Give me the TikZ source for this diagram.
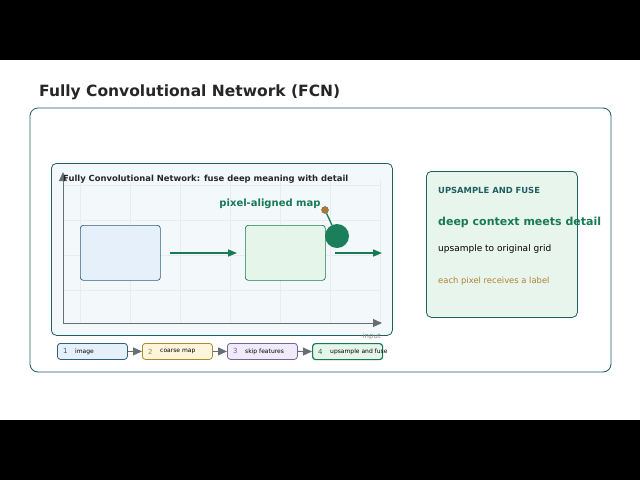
\documentclass[tikz,border=0pt]{standalone}
\usepackage{fontspec}
\setmainfont{DejaVu Sans}
\usetikzlibrary{arrows.meta}
\definecolor{teal}{HTML}{1F5F5F}
\definecolor{grn}{HTML}{177A55}
\definecolor{ax}{HTML}{666F73}
\tikzset{
 stepbox/.style={draw,rounded corners=3pt,line width=0.8pt,minimum width=70pt,minimum height=16pt,anchor=north west,inner sep=0pt},
 tri/.style={-{Triangle[length=9pt,width=8pt]},ax,line width=1pt},
 garr/.style={-{Triangle[length=9pt,width=7pt]},grn,line width=1.6pt},
 card/.style={font=\fontsize{9}{10}\selectfont,anchor=base west,inner sep=0pt}
}
\begin{document}
\begin{tikzpicture}[x=1pt,y=-1pt]
\useasboundingbox (0,0) rectangle (640,480);
\fill[white] (0,0) rectangle (640,480);
\fill[black] (0,0) rectangle (640,60);
\fill[black] (0,420) rectangle (640,480);
\node[anchor=base west,inner sep=0pt,font=\bfseries\fontsize{15.5}{17}\selectfont,text=black!85] (title) at (39,96) {Fully Convolutional Network (FCN)};
\draw[teal,line width=0.8pt,rounded corners=8pt] (30,108) rectangle (611,372);
\node[draw=teal,fill={rgb,255:red,243;green,248;blue,251},line width=0.8pt,rounded corners=5pt,minimum width=341pt,minimum height=172pt,anchor=north west,inner sep=0pt] (panel) at (51,163) {};
\foreach \x in {80,130,180,230,280,330,380} \draw[black!8,line width=0.6pt] (\x,180) -- (\x,323);
\foreach \y in {185,220,255,290} \draw[black!8,line width=0.6pt] (63,\y) -- (380,\y);
\coordinate (o) at (63,323);
\coordinate (yt) at (63,172);
\coordinate (xt) at (382,323);
\draw[tri] (o) -- (yt);
\draw[tri] (o) -- (xt);
\node[anchor=base east,inner sep=0pt,font=\fontsize{7}{8}\selectfont,text=black!45] (inp) at (381,338) {input};
\node[anchor=base west,inner sep=0pt,font=\bfseries\fontsize{8.4}{10}\selectfont,text=black!85] (pt) at (63,181) {Fully Convolutional Network: fuse deep meaning with detail};
\node[draw={rgb,255:red,47;green,95;blue,127},fill={rgb,255:red,230;green,240;blue,250},rounded corners=3pt,minimum width=80pt,minimum height=55pt,anchor=north west,inner sep=0pt,line width=0.7pt] (b1) at (80,225) {};
\node[draw=grn,fill={rgb,255:red,230;green,245;blue,234},rounded corners=3pt,minimum width=80pt,minimum height=55pt,anchor=north west,inner sep=0pt,line width=0.7pt] (b2) at (245,225) {};
\coordinate (a1s) at (170,253); \coordinate (a1e) at (237,253);
\coordinate (a2s) at (335,253); \coordinate (a2e) at (382,253);
\draw[garr] (a1s) -- (a1e);
\draw[garr] (a2s) -- (a2e);
\node[circle,fill={rgb,255:red,26;green,127;blue,90},minimum size=24pt,inner sep=0pt] (c) at (337,236) {};
\node[circle,fill={rgb,255:red,176;green,122;blue,42},draw=black!60,line width=0.4pt,minimum size=7pt,inner sep=0pt] (d) at (325,210) {};
\draw[grn,line width=1.3pt] (d) -- (c);
\node[anchor=base,inner sep=0pt,font=\bfseries\fontsize{10}{11}\selectfont,text=grn] (pm) at (270,206) {pixel-aligned map};
\node[stepbox,draw={rgb,255:red,47;green,95;blue,127},fill={rgb,255:red,230;green,240;blue,250}] (s1) at (57,343) {};
\node[stepbox,draw={rgb,255:red,176;green,138;blue,42},fill={rgb,255:red,253;green,245;blue,220}] (s2) at (142,343) {};
\node[stepbox,draw={rgb,255:red,120;green,100;blue,150},fill={rgb,255:red,240;green,235;blue,248}] (s3) at (227,343) {};
\node[stepbox,draw=grn,fill={rgb,255:red,230;green,245;blue,234},line width=1.2pt] (s4) at (312,343) {};
\node[anchor=west,inner sep=0pt,font=\fontsize{7}{8}\selectfont,text={rgb,255:red,47;green,95;blue,127}] at ([xshift=6pt]s1.west) {1};
\node[anchor=west,inner sep=0pt,font=\fontsize{6}{7}\selectfont] at ([xshift=18pt]s1.west) {image};
\node[anchor=west,inner sep=0pt,font=\fontsize{7}{8}\selectfont,text={rgb,255:red,176;green,138;blue,42}] at ([xshift=6pt]s2.west) {2};
\node[anchor=west,inner sep=0pt,font=\fontsize{6}{7}\selectfont] at ([xshift=18pt]s2.west) {coarse map};
\node[anchor=west,inner sep=0pt,font=\fontsize{7}{8}\selectfont,text={rgb,255:red,120;green,100;blue,150}] at ([xshift=6pt]s3.west) {3};
\node[anchor=west,inner sep=0pt,font=\fontsize{6}{7}\selectfont] at ([xshift=18pt]s3.west) {skip features};
\node[anchor=west,inner sep=0pt,font=\fontsize{7}{8}\selectfont,text=grn] at ([xshift=6pt]s4.west) {4};
\node[anchor=west,inner sep=0pt,font=\fontsize{6}{7}\selectfont] at ([xshift=18pt]s4.west) {upsample and fuse};
\draw[tri] (s1) -- (s2);
\draw[tri] (s2) -- (s3);
\draw[tri] (s3) -- (s4);
\node[draw=teal,fill={rgb,255:red,232;green,245;blue,236},rounded corners=5pt,line width=0.8pt,minimum width=151pt,minimum height=146pt,anchor=north west,inner sep=0pt] (card) at (426,171) {};
\node[card,font=\bfseries\fontsize{8.4}{10}\selectfont,text=teal] (c1) at (438,193) {UPSAMPLE AND FUSE};
\node[card,font=\bfseries\fontsize{11}{12}\selectfont,text=grn] (c2) at (438,225) {deep context meets detail};
\node[card,text=black] (c3) at (438,251) {upsample to original grid};
\node[card,font=\fontsize{8.4}{10}\selectfont,text={rgb,255:red,176;green,130;blue,50}] (c4) at (438,283) {each pixel receives a label};
\end{tikzpicture}
\end{document}
